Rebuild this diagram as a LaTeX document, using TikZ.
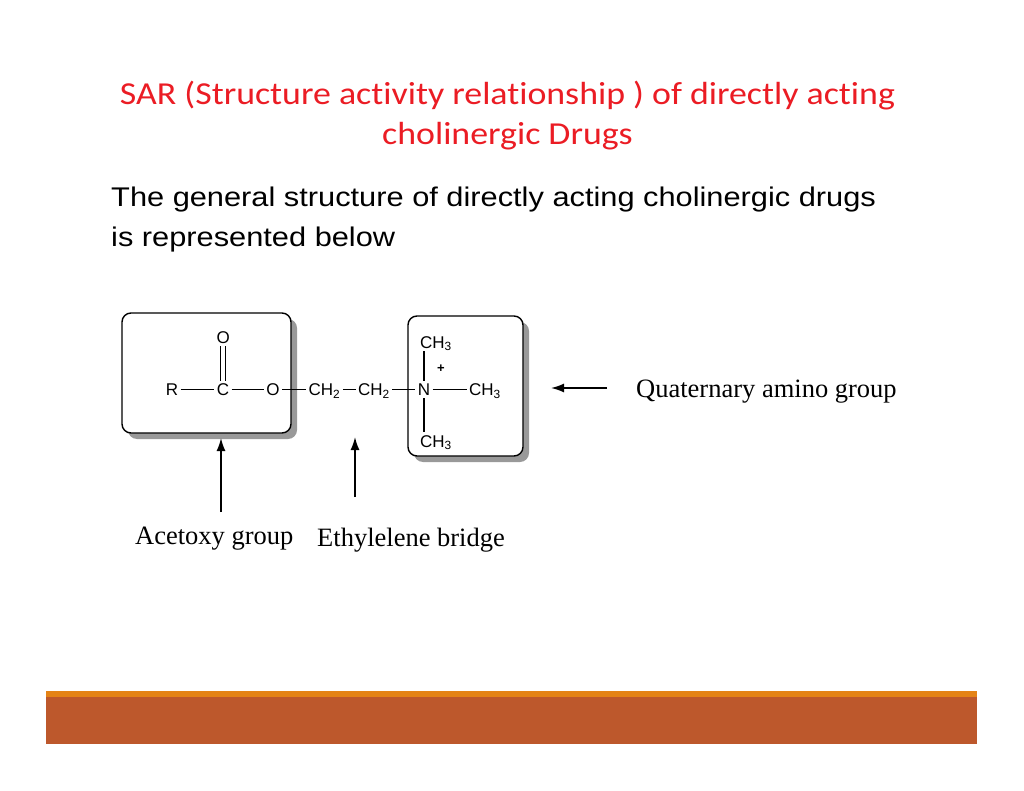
\documentclass[tikz,border=0pt]{standalone}
\usepackage{fontspec}
\setmainfont{Liberation Serif}
\newfontfamily\titlefont[FakeStretch=1.12,RawFeature=-liga]{Carlito}
\newfontfamily\bodyfont[FakeStretch=1.14]{Liberation Sans}
\newfontfamily\chemfont{Liberation Sans}
\usetikzlibrary{arrows.meta,shadows}
\definecolor{titlered}{RGB}{235,28,36}
\definecolor{barorange}{RGB}{228,131,22}
\definecolor{barrust}{RGB}{189,88,44}
\definecolor{shadowgray}{gray}{0.6}
\begin{document}
\begin{tikzpicture}[x=1pt,y=-1pt,
 titletext/.style={font=\titlefont\fontsize{32}{38}\selectfont, text=titlered, anchor=base, inner sep=0pt},
 bodytext/.style={font=\bodyfont\fontsize{27}{32}\selectfont, anchor=base west, inner sep=0pt},
 labeltext/.style={font=\fontsize{26.5}{32}\selectfont, anchor=base west, inner sep=0pt},
 atom/.style={font=\chemfont\fontsize{17}{20}\selectfont, text height=12.2pt, text depth=0pt, inner sep=2.5pt, outer sep=0pt},
 bond/.style={line width=1.2pt},
 groupbox/.style={draw, line width=1.4pt, rounded corners=9pt, fill=white,
   drop shadow={shadow xshift=6pt, shadow yshift=-6pt, fill=shadowgray, opacity=1}},
 pointer/.style={line width=1.6pt, -{Latex[length=13pt,width=9pt]}},
]
\useasboundingbox (0,0) rectangle (1024,791);
\fill[white] (0,0) rectangle (1024,791);

% title and text
\node[titletext] (title1) at (507.5,104.7) {SAR (Structure activity relationship ) of directly acting};
\node[titletext] (title2) at (507.5,144.7) {cholinergic Drugs};
\node[bodytext] (body1) at (111,206.7) {The general structure of directly acting cholinergic drugs};
\node[bodytext] (body2) at (111,246.7) {is represented below};

% group boxes
\node[groupbox, minimum width=169pt, minimum height=120pt, inner sep=0pt] (acetbox) at (206.5,373) {};
\node[groupbox, minimum width=115pt, minimum height=140pt, inner sep=0pt] (quatbox) at (465.5,386) {};

% atoms
\node[atom] (R) at (172,389.5) {R};
\node[atom] (C) at (223,389.5) {C};
\node[atom] (Oe) at (273,389.5) {O};
\node[atom] (Oc) at (223.3,337) {O};
\node[atom] (ch2a) at (324.5,389.5) {CH\textsubscript{2}};
\node[atom] (ch2b) at (374,389.5) {CH\textsubscript{2}};
\node[atom] (N) at (424,389.5) {N};
\node[atom] (me3) at (485,389.5) {CH\textsubscript{3}};
\node[atom, anchor=base west] (me1) at (417.5,348) {CH\textsubscript{3}};
\node[atom, anchor=base west] (me2) at (417.5,447) {CH\textsubscript{3}};
\node[font=\chemfont\bfseries\fontsize{13}{15}\selectfont, inner sep=0pt] (plus) at (441,369) {+};

% bonds
\draw[bond] (R) -- (C);
\draw[bond] (C) -- (Oe);
\draw[bond] (Oe) -- (ch2a);
\draw[bond] (ch2a) -- (ch2b);
\draw[bond] (ch2b) -- (N);
\draw[bond] (N) -- (me3);
\draw[bond] (N.north) -- (N.north |- me1.south);
\draw[bond] (N.south) -- (N.south |- me2.north);
\draw[bond] ([xshift=-2.5pt]C.north) -- ([xshift=-2.5pt]C.north |- Oc.south);
\draw[bond] ([xshift=2.5pt]C.north) -- ([xshift=2.5pt]C.north |- Oc.south);

% labels and pointers
\node[labeltext] (acetlabel) at (135,544.3) {Acetoxy group};
\node[labeltext] (ethlabel) at (317,546.7) {Ethylelene bridge};
\node[labeltext] (quatlabel) at (636,397.7) {Quaternary amino group};
\coordinate (acetTail) at (221,512);
\coordinate (acetTip) at (221,438);
\coordinate (ethTail) at (355,497);
\coordinate (ethTip) at (355,437);
\coordinate (quatTail) at (607,388);
\coordinate (quatTip) at (551,388);
\draw[pointer] (acetTail) -- (acetTip);
\draw[pointer] (ethTail) -- (ethTip);
\draw[pointer] (quatTail) -- (quatTip);

% footer bar
\fill[barrust] (46,697) rectangle (977,744);
\fill[barorange] (46,691) rectangle (977,697);
\end{tikzpicture}
\end{document}
